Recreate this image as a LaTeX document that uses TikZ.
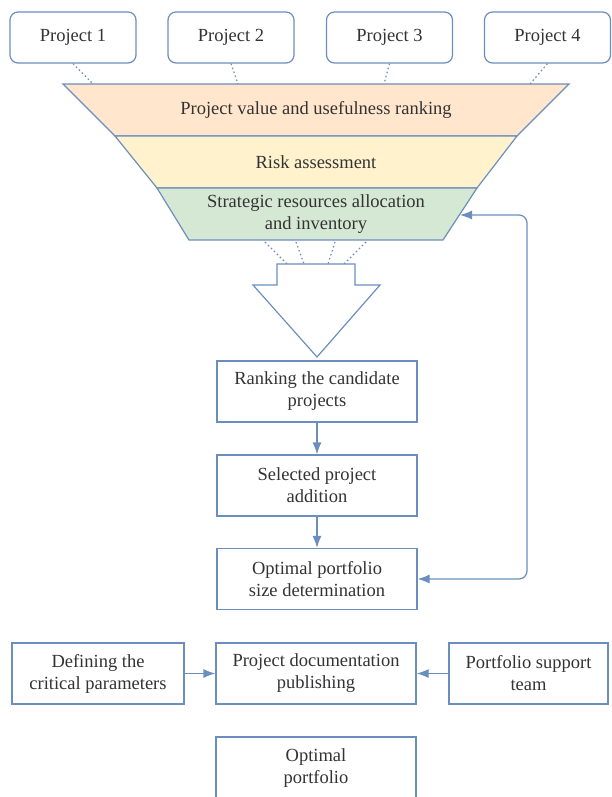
\documentclass[tikz,border=0pt]{standalone}
\usepackage{fontspec}
\setmainfont{Liberation Serif}
\usetikzlibrary{arrows.meta}
\definecolor{bl}{HTML}{6C8EBF}
\definecolor{txt}{HTML}{333333}
\definecolor{peach}{HTML}{FFE6CC}
\definecolor{yel}{HTML}{FFF2CC}
\definecolor{grn}{HTML}{D5E8D4}
\tikzset{
  base/.style={draw=bl, line width=1.2pt, fill=white, text=txt, align=center,
    font=\fontsize{18.5}{22}\selectfont, inner sep=0pt},
  proj/.style={base, rounded corners=8pt, minimum width=126pt, minimum height=51pt},
  box/.style={base, minimum width=200pt, minimum height=61pt},
  band/.style={draw=bl, line width=1.2pt},
  lbl/.style={text=txt, align=center, font=\fontsize{18.5}{22}\selectfont, inner sep=0pt},
  dots/.style={draw=bl, line width=1.2pt, dash pattern=on 1.6pt off 2.6pt},
  tip/.style={},
  arr/.style={draw=bl, line width=1.2pt, -{Latex[length=12pt,width=9pt]}},
}
\begin{document}
\begin{tikzpicture}[x=1pt,y=-1pt]
\useasboundingbox (0,0) rectangle (611,797);
\clip (0,0) rectangle (611,797);

% project boxes
\node[proj] (p1) at (73,37.5) {Project 1};
\node[proj] (p2) at (231,37.5) {Project 2};
\node[proj] (p3) at (389.5,37.5) {Project 3};
\node[proj] (p4) at (547.5,37.5) {Project 4};

% funnel
\coordinate (a1) at (63,84);  \coordinate (a2) at (569,84);
\coordinate (b1) at (115,136); \coordinate (b2) at (517,136);
\coordinate (c1) at (157,188); \coordinate (c2) at (477,188);
\coordinate (d1) at (189,240); \coordinate (d2) at (443,240);
\filldraw[band, fill=peach] (a1) -- (a2) -- (b2) -- (b1) -- cycle;
\filldraw[band, fill=yel] (b1) -- (b2) -- (c2) -- (c1) -- cycle;
\filldraw[band, fill=grn] (c1) -- (c2) -- (d2) -- (d1) -- cycle;
\node[lbl] (t1) at (316,110) {Project value and usefulness ranking};
\node[lbl] (t2) at (316,162) {Risk assessment};
\node[lbl] (t3) at (316,214) {Strategic resources allocation\\and inventory};

% dotted lines top
\coordinate (q1) at (93,84);
\coordinate (q2) at (238,84);
\coordinate (q3) at (384,84);
\coordinate (q4) at (530,84);
\draw[dots] (p1.south) -- (q1);
\draw[dots] (p2.south) -- (q2);
\draw[dots] (p3.south) -- (q3);
\draw[dots] (p4.south) -- (q4);

% block arrow
\coordinate (s1) at (277,264); \coordinate (s2) at (355,264);
\filldraw[band, fill=white] (s1) -- (s2) -- (355,285) -- (380,285) -- (317,357) -- (253,285) -- (277,285) -- cycle;

% dotted lines bottom of funnel
\coordinate (u1) at (265,242); \coordinate (v1) at (287,264);
\coordinate (u2) at (296,242); \coordinate (v2) at (304,264);
\coordinate (u3) at (335,242); \coordinate (v3) at (328,264);
\coordinate (u4) at (366,242); \coordinate (v4) at (344,264);
\draw[dots] (u1) -- (v1);
\draw[dots] (u2) -- (v2);
\draw[dots] (u3) -- (v3);
\draw[dots] (u4) -- (v4);

% main column
\node[box] (rank) at (317,391.5) {Ranking the candidate\\projects};
\node[box] (sel) at (317,485.5) {Selected project\\addition};
\node[box] (opt) at (317,579) {Optimal portfolio\\size determination};
\draw[arr] (rank.south) -- (sel.north);
\draw[arr] (sel.south) -- (opt.north);

% feedback
\coordinate (fbtop) at (460,215);
\coordinate (fbc) at (527,215);
\draw[draw=bl, line width=1.2pt, {Latex[length=12pt,width=9pt]}-{Latex[length=12pt,width=9pt]}, rounded corners=8pt]
  (fbtop) -- (fbc) |- (opt.east);

% bottom row
\node[base, minimum width=172pt, minimum height=61pt] (def) at (98,673.5) {Defining the\\critical parameters};
\node[box] (doc) at (316,673.5) {Project documentation\\publishing};
\node[base, minimum width=159pt, minimum height=61pt] (sup) at (528.5,673.5) {Portfolio support\\team};
\draw[arr] (def.east) -- (doc.west);
\draw[arr] (sup.west) -- (doc.east);

\node[box, minimum height=62pt] (fin) at (316,768) {Optimal\\portfolio};
\end{tikzpicture}
\end{document}
